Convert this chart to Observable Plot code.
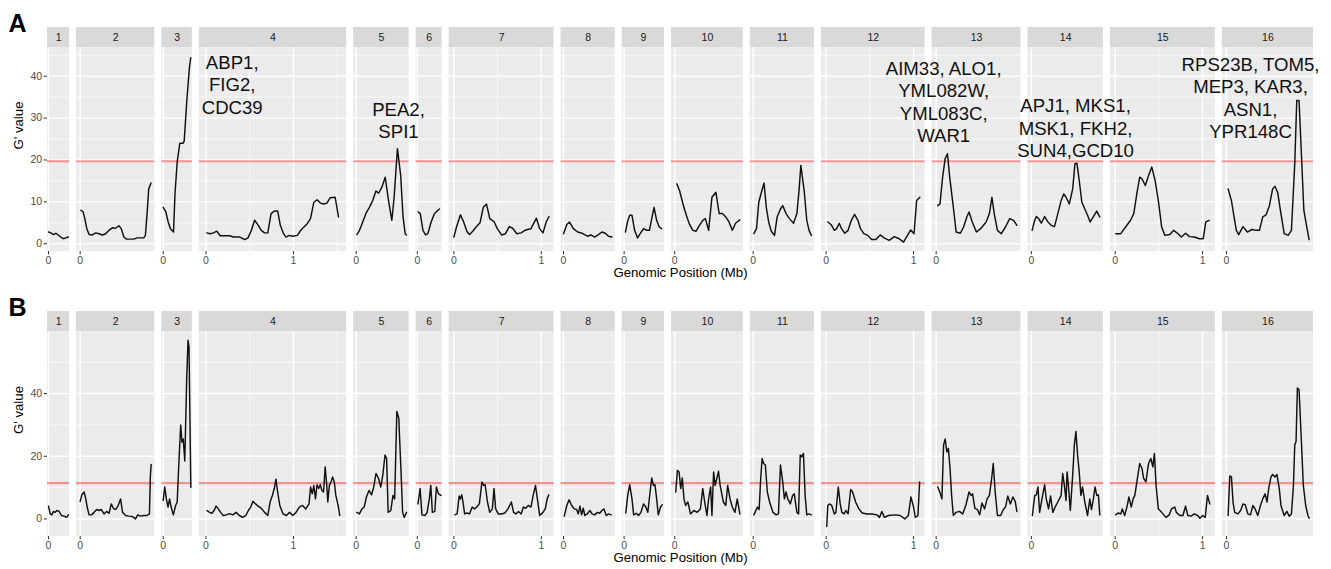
<!DOCTYPE html>
<html><head><meta charset="utf-8">
<script src="https://cdn.jsdelivr.net/npm/d3@7"></script>
<script src="https://cdn.jsdelivr.net/npm/@observablehq/plot@0.6"></script>
<style>body{margin:0;background:#fff;} svg{display:block;overflow:visible}</style>
</head><body><div id="chart"></div>
<script>
// ---------- data ----------
const chrNames = ["1","2","3","4","5","6","7","8","9","10","11","12","13","14","15","16"];
const chrLengths = [0.230,0.813,0.317,1.532,0.577,0.270,1.091,0.563,0.440,0.746,0.667,1.078,0.924,0.784,1.091,0.948]; // Mb
const xBreaks = [0, 1];
const xMinorBreaks = [0.5, 1.5];
const yTicksA = [0, 10, 20, 30, 40];
const yMinorA = [5, 15, 25, 35, 45];
const yTicksB = [0, 20, 40];
const yMinorB = [10, 30, 50];
const yDomainA = [-1.85, 46.85];
const yDomainB = [-5.6, 59.8];
const thresholdA = 19.7;
const thresholdB = 11.45;
const xTitle = "Genomic Position (Mb)";
const yTitle = "G' value";

// Panel A: [position (Mb), G' value]
const gA1 = [[0,2.8],[0.027,2.6],[0.057,2.2],[0.083,2.5],[0.11,2.1],[0.14,1.6],[0.17,1.2],[0.197,1.4],[0.227,1.6]];
const gA2 = [[0.008,8.0],[0.034,7.6],[0.053,6.0],[0.076,3.6],[0.102,2.2],[0.14,2.1],[0.178,2.6],[0.216,2.4],[0.254,2.1],[0.292,2.4],[0.33,3.2],[0.367,3.8],[0.405,3.7],[0.443,4.3],[0.47,3.6],[0.5,1.6],[0.53,1.1],[0.576,1.1],[0.614,1.1],[0.65,1.4],[0.69,1.4],[0.727,1.4],[0.746,2.0],[0.765,7.2],[0.784,13.1],[0.81,14.5]];
const gA3 = [[0,8.7],[0.03,7.6],[0.057,5.2],[0.083,3.6],[0.118,2.8],[0.135,12.0],[0.16,19.5],[0.19,24.0],[0.228,24.0],[0.24,24.5],[0.27,34.2],[0.30,42.1],[0.315,44.4]];
const gA4 = [[0.011,2.6],[0.049,2.4],[0.086,2.6],[0.124,3.0],[0.162,1.9],[0.199,1.9],[0.237,1.9],[0.274,1.9],[0.312,1.6],[0.35,1.6],[0.387,1.6],[0.444,1.0],[0.481,1.4],[0.519,3.2],[0.556,5.6],[0.594,4.5],[0.632,3.2],[0.669,2.6],[0.707,2.6],[0.744,7.2],[0.782,7.8],[0.82,7.8],[0.85,4.4],[0.887,2.4],[0.914,1.6],[0.951,2.0],[0.989,1.8],[1.045,2.0],[1.083,3.2],[1.12,4.0],[1.158,4.8],[1.195,6.0],[1.233,9.9],[1.271,10.5],[1.308,9.7],[1.346,9.5],[1.383,9.7],[1.421,11.0],[1.477,11.1],[1.515,6.4]];
const gA5 = [[0.008,2.2],[0.038,3.2],[0.075,5.2],[0.113,7.3],[0.151,8.7],[0.189,10.3],[0.226,12.6],[0.257,12.1],[0.294,13.5],[0.332,15.9],[0.37,10.3],[0.408,5.6],[0.434,11.1],[0.472,22.7],[0.509,16.3],[0.536,6.4],[0.56,2.4],[0.575,2.1]];
const gA6 = [[0.008,7.6],[0.034,7.2],[0.064,3.2],[0.094,2.1],[0.12,2.4],[0.158,5.2],[0.196,7.2],[0.253,8.3]];
const gA7 = [[0,1.6],[0.03,4.0],[0.075,6.9],[0.112,5.2],[0.149,2.9],[0.179,2.2],[0.216,3.0],[0.254,4.0],[0.299,5.0],[0.336,8.7],[0.373,9.5],[0.41,6.0],[0.459,5.3],[0.496,3.6],[0.545,2.1],[0.59,2.4],[0.634,4.1],[0.672,3.7],[0.72,2.4],[0.769,2.6],[0.821,3.3],[0.881,3.6],[0.944,6.1],[0.981,3.6],[1.019,2.6],[1.056,5.2],[1.088,6.5]];
const gA8 = [[0,2.4],[0.038,4.6],[0.068,5.2],[0.113,3.6],[0.162,2.8],[0.214,2.5],[0.274,1.8],[0.312,2.1],[0.357,1.6],[0.395,2.1],[0.44,2.8],[0.477,2.5],[0.515,1.8],[0.553,1.6]];
const gA9 = [[0.015,2.8],[0.041,5.4],[0.064,6.8],[0.09,6.8],[0.12,3.2],[0.154,1.4],[0.184,2.4],[0.222,3.6],[0.259,3.2],[0.289,3.2],[0.316,6.0],[0.342,8.7],[0.372,5.6],[0.402,4.0],[0.429,3.6]];
const gA10 = [[0.023,14.3],[0.056,12.6],[0.094,9.5],[0.132,6.8],[0.169,4.6],[0.207,3.2],[0.244,3.0],[0.282,4.4],[0.32,5.6],[0.35,6.0],[0.387,3.2],[0.425,11.1],[0.47,12.3],[0.508,7.2],[0.545,7.2],[0.583,6.4],[0.62,5.2],[0.658,3.2],[0.695,4.9],[0.744,5.7]];
const gA11 = [[0.008,2.4],[0.038,3.6],[0.064,9.9],[0.094,12.3],[0.124,14.5],[0.15,8.7],[0.177,5.2],[0.207,3.0],[0.244,2.0],[0.274,6.4],[0.312,8.3],[0.338,9.1],[0.376,7.2],[0.414,6.0],[0.462,4.9],[0.5,7.2],[0.526,13.1],[0.545,18.7],[0.583,12.7],[0.613,5.6],[0.639,3.2],[0.665,2.0]];
const gA12 = [[0.019,5.2],[0.056,4.6],[0.094,3.2],[0.12,3.6],[0.15,4.9],[0.176,3.6],[0.213,2.5],[0.251,3.2],[0.288,5.6],[0.326,7.0],[0.363,5.6],[0.393,3.6],[0.431,2.4],[0.476,2.0],[0.52,1.0],[0.569,1.0],[0.618,2.1],[0.663,1.4],[0.72,0.8],[0.78,1.7],[0.835,1.2],[0.885,0.4],[0.93,2.0],[0.967,3.3],[1.005,2.4],[1.035,10.3],[1.072,11.1]];
const gA13 = [[0.018,9.1],[0.044,9.5],[0.074,15.9],[0.103,20.3],[0.129,21.5],[0.155,15.9],[0.192,9.5],[0.229,2.8],[0.277,2.5],[0.314,4.0],[0.351,6.4],[0.376,7.6],[0.413,5.2],[0.461,2.8],[0.509,3.6],[0.572,5.2],[0.609,7.2],[0.638,11.1],[0.664,7.2],[0.701,3.2],[0.745,2.4],[0.793,4.0],[0.841,6.0],[0.886,5.6],[0.923,4.4]];
const gA14 = [[0.008,3.2],[0.038,5.6],[0.057,6.5],[0.083,6.0],[0.113,4.9],[0.151,6.5],[0.189,5.2],[0.226,4.4],[0.264,4.1],[0.302,7.2],[0.34,10.3],[0.37,11.9],[0.396,11.1],[0.434,9.5],[0.472,13.1],[0.498,19.1],[0.521,19.2],[0.547,15.1],[0.577,9.9],[0.611,8.3],[0.642,6.8],[0.672,5.2],[0.709,6.5],[0.747,7.8],[0.782,6.4]];
const gA15 = [[0.007,2.4],[0.064,2.4],[0.12,4.0],[0.176,5.6],[0.213,7.2],[0.251,12.3],[0.281,15.9],[0.307,15.5],[0.345,13.9],[0.382,16.3],[0.419,18.3],[0.457,15.1],[0.494,10.3],[0.532,4.0],[0.569,2.0],[0.625,2.2],[0.67,3.2],[0.719,2.4],[0.757,1.6],[0.805,2.5],[0.85,1.7],[0.906,1.6],[0.963,1.2],[1.007,1.2],[1.037,5.2],[1.075,5.6]];
const gA16 = [[0.019,13.1],[0.057,10.3],[0.087,6.4],[0.113,3.2],[0.14,2.2],[0.189,4.1],[0.238,2.8],[0.291,3.4],[0.34,3.2],[0.377,3.2],[0.415,6.4],[0.453,6.9],[0.491,9.1],[0.528,13.1],[0.555,13.7],[0.585,12.3],[0.623,7.2],[0.66,2.4],[0.706,2.0],[0.743,3.2],[0.781,19.1],[0.804,34.2],[0.83,34.2],[0.857,21.5],[0.885,8.0],[0.91,5.0],[0.945,1.0]];

// Panel B
const gB1 = [[0,4.1],[0.019,1.6],[0.038,1.3],[0.057,2.4],[0.076,2.1],[0.095,2.7],[0.121,2.4],[0.148,1.1],[0.178,0.9],[0.208,0.5],[0.227,1.3]];
const gB2 = [[0,5.6],[0.019,7.7],[0.045,8.6],[0.064,6.4],[0.083,3.4],[0.102,1.3],[0.129,1.3],[0.159,2.1],[0.189,3.0],[0.216,2.7],[0.242,3.0],[0.273,1.6],[0.303,2.4],[0.33,1.8],[0.356,4.8],[0.379,3.4],[0.405,3.0],[0.432,4.1],[0.462,6.4],[0.485,2.1],[0.519,1.1],[0.557,0.9],[0.595,0.8],[0.633,0.0],[0.659,1.3],[0.689,0.9],[0.727,1.1],[0.765,1.1],[0.792,1.6],[0.803,13.9],[0.812,17.4]];
const gB3 = [[0,5.9],[0.018,10.2],[0.036,6.4],[0.055,3.8],[0.073,6.4],[0.091,3.8],[0.116,1.3],[0.142,4.3],[0.16,5.4],[0.178,17.2],[0.2,30.0],[0.215,24.5],[0.229,25.5],[0.247,18.5],[0.269,45.0],[0.284,57.0],[0.295,55.0],[0.316,10.0]];
const gB4 = [[0.011,2.7],[0.041,2.1],[0.067,1.8],[0.093,2.7],[0.115,4.1],[0.141,3.2],[0.167,2.1],[0.196,1.1],[0.233,1.3],[0.27,1.7],[0.307,1.3],[0.344,2.1],[0.381,1.1],[0.419,0.5],[0.456,1.1],[0.485,2.7],[0.511,3.8],[0.537,5.6],[0.567,4.8],[0.596,4.1],[0.633,3.4],[0.67,2.1],[0.707,1.1],[0.733,5.4],[0.759,7.5],[0.781,9.7],[0.8,12.7],[0.819,8.6],[0.844,4.3],[0.881,1.6],[0.919,1.1],[0.956,2.1],[0.993,1.1],[1.03,2.1],[1.067,3.8],[1.104,4.3],[1.141,3.2],[1.178,4.8],[1.196,10.2],[1.215,8.0],[1.233,10.7],[1.252,6.4],[1.27,10.9],[1.289,9.7],[1.307,10.9],[1.326,9.1],[1.344,8.6],[1.363,16.6],[1.381,10.7],[1.393,5.4],[1.411,10.7],[1.43,11.8],[1.448,13.4],[1.467,11.8],[1.485,7.5],[1.511,4.3],[1.53,1.1]];
const gB5 = [[0.007,2.1],[0.037,1.6],[0.066,3.2],[0.092,3.8],[0.117,7.0],[0.147,9.1],[0.176,7.7],[0.201,10.2],[0.227,14.5],[0.256,12.9],[0.282,10.2],[0.304,13.9],[0.33,20.4],[0.348,19.3],[0.366,2.1],[0.396,2.7],[0.421,7.5],[0.44,6.4],[0.465,34.3],[0.487,32.2],[0.513,15.0],[0.531,2.1],[0.549,0.5],[0.576,2.1]];
const gB6 = [[0.007,4.8],[0.032,9.7],[0.053,1.3],[0.088,1.1],[0.112,2.1],[0.137,6.4],[0.154,10.7],[0.172,2.1],[0.2,2.4],[0.218,10.2],[0.242,8.0],[0.27,7.5]];
const gB7 = [[0.011,1.3],[0.037,1.6],[0.06,7.3],[0.075,6.4],[0.09,7.7],[0.104,5.4],[0.123,1.6],[0.149,1.9],[0.179,1.6],[0.209,3.8],[0.235,3.2],[0.261,3.8],[0.291,4.8],[0.321,11.8],[0.34,10.7],[0.358,10.9],[0.384,5.4],[0.41,2.1],[0.44,3.2],[0.459,9.7],[0.478,3.2],[0.507,1.6],[0.545,1.6],[0.582,1.9],[0.619,3.2],[0.657,5.4],[0.683,2.1],[0.709,1.6],[0.739,2.4],[0.769,1.6],[0.795,3.8],[0.821,3.4],[0.851,4.3],[0.881,3.8],[0.907,7.5],[0.933,10.7],[0.955,6.4],[0.981,1.1],[1.019,2.1],[1.045,3.2],[1.067,6.4],[1.086,7.7]];
const gB8 = [[0.008,0.9],[0.038,4.3],[0.064,6.1],[0.094,4.3],[0.124,3.2],[0.15,3.0],[0.169,1.6],[0.188,4.1],[0.207,1.3],[0.226,3.4],[0.244,1.1],[0.271,1.6],[0.301,2.7],[0.327,1.6],[0.357,1.3],[0.387,2.1],[0.414,1.8],[0.44,2.7],[0.462,3.2],[0.489,1.1],[0.515,1.6],[0.545,1.3]];
const gB9 = [[0.019,1.9],[0.041,7.5],[0.064,10.9],[0.09,6.4],[0.109,1.3],[0.139,1.8],[0.165,1.1],[0.192,2.1],[0.222,4.8],[0.248,3.8],[0.271,2.1],[0.297,8.6],[0.316,13.1],[0.335,10.7],[0.353,10.9],[0.372,6.4],[0.391,1.3],[0.417,3.8],[0.436,4.5]];
const gB10 = [[0.011,8.6],[0.03,15.5],[0.049,15.0],[0.068,9.7],[0.086,13.1],[0.105,6.4],[0.124,4.3],[0.15,5.4],[0.18,1.6],[0.218,2.7],[0.256,2.1],[0.293,3.2],[0.32,9.7],[0.342,5.4],[0.368,1.1],[0.387,6.4],[0.41,10.2],[0.425,1.1],[0.444,15.0],[0.462,10.7],[0.481,12.9],[0.5,15.2],[0.519,10.7],[0.556,5.4],[0.583,4.3],[0.605,10.7],[0.632,6.4],[0.658,3.8],[0.688,2.1],[0.714,6.4],[0.744,1.6]];
const gB11 = [[0.008,1.3],[0.026,2.4],[0.049,3.8],[0.068,3.0],[0.086,12.9],[0.102,19.3],[0.12,17.7],[0.139,17.2],[0.162,8.6],[0.188,5.4],[0.226,2.1],[0.263,1.3],[0.289,1.6],[0.312,17.2],[0.338,11.8],[0.357,6.4],[0.376,8.6],[0.395,6.4],[0.425,4.8],[0.451,7.5],[0.47,8.0],[0.5,2.1],[0.519,1.6],[0.538,20.4],[0.556,19.8],[0.575,20.9],[0.594,7.5],[0.613,1.3],[0.639,1.6],[0.665,1.3]];
const gB12 = [[0.007,-2.4],[0.019,4.3],[0.037,4.8],[0.064,4.3],[0.094,1.6],[0.112,2.1],[0.139,10.2],[0.161,4.8],[0.18,2.1],[0.206,1.6],[0.225,2.7],[0.251,1.6],[0.281,9.4],[0.303,8.6],[0.337,5.4],[0.375,3.2],[0.412,1.9],[0.468,1.6],[0.524,1.6],[0.581,1.3],[0.61,0.5],[0.637,2.4],[0.667,0.5],[0.712,1.1],[0.79,1.3],[0.846,1.1],[0.9,0.0],[0.94,1.1],[0.97,7.0],[0.996,4.3],[1.02,0.5],[1.05,1.1],[1.069,11.8]];
const gB13 = [[0.018,10.2],[0.044,8.4],[0.066,6.4],[0.085,23.6],[0.103,25.5],[0.122,21.4],[0.14,22.5],[0.159,16.1],[0.177,7.5],[0.196,1.1],[0.229,2.1],[0.266,2.4],[0.303,1.6],[0.339,4.3],[0.376,8.6],[0.399,7.5],[0.417,8.0],[0.443,3.4],[0.472,3.0],[0.498,1.3],[0.524,5.1],[0.554,3.2],[0.583,6.4],[0.609,7.5],[0.635,12.9],[0.653,17.7],[0.675,8.6],[0.701,1.1],[0.738,1.1],[0.768,3.0],[0.793,3.8],[0.819,7.3],[0.849,4.8],[0.878,7.0],[0.904,5.6],[0.923,2.4]];
const gB14 = [[0.011,1.1],[0.038,7.5],[0.057,7.7],[0.075,10.2],[0.094,2.1],[0.121,6.4],[0.151,10.9],[0.17,6.4],[0.196,3.2],[0.219,7.3],[0.245,2.1],[0.272,3.8],[0.302,5.4],[0.34,7.5],[0.358,14.5],[0.377,10.7],[0.396,5.9],[0.408,15.0],[0.423,10.7],[0.445,2.7],[0.472,13.9],[0.491,23.6],[0.509,27.9],[0.528,20.4],[0.547,15.0],[0.566,7.5],[0.585,10.2],[0.611,5.4],[0.642,1.1],[0.668,6.4],[0.687,3.0],[0.709,6.4],[0.728,10.2],[0.747,7.5],[0.766,7.7],[0.782,1.3]];
const gB15 = [[0.007,1.3],[0.034,1.9],[0.064,1.6],[0.082,3.2],[0.109,1.1],[0.139,4.3],[0.157,7.0],[0.184,3.8],[0.206,6.4],[0.225,7.5],[0.251,12.3],[0.281,17.7],[0.307,16.1],[0.326,12.9],[0.352,11.8],[0.382,17.7],[0.408,19.3],[0.431,16.6],[0.449,20.9],[0.468,10.7],[0.494,3.2],[0.532,2.1],[0.581,0.5],[0.618,1.3],[0.644,3.2],[0.682,3.8],[0.7,2.1],[0.738,1.1],[0.775,1.1],[0.805,4.1],[0.831,1.1],[0.869,0.9],[0.906,1.6],[0.944,1.1],[0.97,0.2],[1.0,1.1],[1.03,0.5],[1.056,7.5],[1.082,4.8]];
const gB16 = [[0.019,1.1],[0.038,13.7],[0.057,13.4],[0.075,5.4],[0.094,2.1],[0.132,1.6],[0.162,2.7],[0.189,4.8],[0.215,4.5],[0.245,1.6],[0.275,1.3],[0.302,4.3],[0.328,3.2],[0.358,1.1],[0.389,4.3],[0.415,6.4],[0.442,8.0],[0.464,5.4],[0.483,9.7],[0.509,13.4],[0.528,14.2],[0.555,13.4],[0.577,14.2],[0.604,9.7],[0.623,4.3],[0.66,1.1],[0.691,2.4],[0.717,0.9],[0.743,1.6],[0.766,10.7],[0.781,23.6],[0.796,24.7],[0.811,41.8],[0.83,41.3],[0.857,24.7],[0.879,10.7],[0.906,4.3],[0.932,1.1],[0.946,0.2]];

// gene annotations for panel A: chromosome, position (Mb), G' value (block centre), text
const annotChr = [4, 5, 13, 14, 16];
const annotPos = [0.30, 0.484, 0.086, 0.505, 0.275];
const annotG = [38.1, 29.6, 34.0, 27.8, 35.0];
const annotText = ["ABP1,\nFIG2,\nCDC39", "PEA2,\nSPI1", "AIM33, ALO1,\nYML082W,\nYML083C,\nWAR1", "APJ1, MKS1,\nMSK1, FKH2,\nSUN4,GCD10", "RPS23B, TOM5,\nMEP3, KAR3,\nASN1,\nYPR148C"];

// ---------- layout (free-width facets) ----------
const EXPAND = 0.05, GAP = 0.08;
let acc = 0;
const chroms = chrNames.map((name, i) => {
  const L = chrLengths[i];
  const start = acc, end = start + L * (1 + 2 * EXPAND);
  acc = end + GAP;
  return {name, L, start, end, origin: start + EXPAND * L, mid: (start + end) / 2, lo: -EXPAND * L, hi: L * (1 + EXPAND)};
});
const total = acc - GAP;

const FONT = "'Liberation Sans', Arial, Helvetica, sans-serif";

function panel({letter, series, yDomain, yTicks, yMinor, threshold, annots, height}) {
  const lineData = series.flatMap((arr, i) => arr.map(([p, g]) => ({chr: chrNames[i], x: chroms[i].origin + p, g})));
  const gridMajY = chroms.flatMap(c => yTicks.map(v => ({...c, v})));
  const gridMinY = chroms.flatMap(c => yMinor.filter(v => v > yDomain[0] && v < yDomain[1]).map(v => ({...c, v})));
  const gridMajX = chroms.flatMap(c => xBreaks.filter(b => b >= c.lo && b <= c.hi).map(b => ({gx: c.origin + b, label: String(b)})));
  const gridMinX = chroms.flatMap(c => {
    const nMaj = xBreaks.filter(b => b >= c.lo && b <= c.hi).length;
    return nMaj < 2 ? [] : xMinorBreaks.filter(b => b >= c.lo && b <= c.hi).map(b => ({gx: c.origin + b}));
  });
  const labelAt = new Map(gridMajX.map(t => [t.gx, t.label]));
  const yLo = () => yDomain[0], yHi = () => yDomain[1];
  return Plot.plot({
    width: 1331, height,
    marginLeft: 47, marginRight: 18, marginTop: 47, marginBottom: 33,
    x: {domain: [0, total]},
    y: {domain: yDomain},
    style: {fontFamily: FONT, background: "white", overflow: "visible"},
    marks: [
      Plot.rect(chroms, {x1: "start", x2: "end", y1: yLo, y2: yHi, fill: "#ebebeb"}),
      Plot.rect(chroms, {x1: "start", x2: "end", y1: yHi, y2: yHi, insetTop: -20, fill: "#d9d9d9"}),
      Plot.text(chroms, {x: "mid", y: yHi, dy: -10, text: "name", fontSize: 10.5, fill: "#1a1a1a"}),
      Plot.ruleY(gridMinY, {y: "v", x1: "start", x2: "end", stroke: "white", strokeWidth: 0.7}),
      Plot.ruleX(gridMinX, {x: "gx", y1: yLo, y2: yHi, stroke: "white", strokeWidth: 0.7}),
      Plot.ruleY(gridMajY, {y: "v", x1: "start", x2: "end", stroke: "white", strokeWidth: 1.4}),
      Plot.ruleX(gridMajX, {x: "gx", y1: yLo, y2: yHi, stroke: "white", strokeWidth: 1.4}),
      Plot.ruleY(chroms, {y: () => threshold, x1: "start", x2: "end", stroke: "red", strokeOpacity: 0.38, strokeWidth: 2.2}),
      Plot.line(lineData, {x: "x", y: "g", z: "chr", stroke: "#111", strokeWidth: 1.45, strokeLinejoin: "round"}),
      Plot.axisY({ticks: yTicks, tickSize: 3.3, tickPadding: 2, fontSize: 10.5, stroke: "#333", fill: "#4d4d4d", label: null}),
      Plot.axisX({ticks: gridMajX.map(t => t.gx), tickFormat: v => labelAt.get(v), tickSize: 3.3, tickPadding: 2, fontSize: 10.5, stroke: "#333", fill: "#4d4d4d", label: null}),
      Plot.text([yTitle], {frameAnchor: "left", dx: -29, rotate: -90, text: d => d, fontSize: 13.2, fill: "#000"}),
      Plot.text([xTitle], {frameAnchor: "bottom", dy: 25.5, text: d => d, fontSize: 13.2, fill: "#000"}),
      Plot.text([letter], {frameAnchor: "top-left", dx: -39, dy: -16, text: d => d, fontSize: 25, fontWeight: "bold", textAnchor: "start", lineAnchor: "bottom", fill: "#000"}),
      Plot.text(annots, {x: d => chroms[d.chr - 1].origin + d.pos, y: "g", text: "label", fontSize: 18.6, lineHeight: 1.21, lineAnchor: "middle", textAnchor: "middle", fill: "#111"})
    ]
  });
}

const annotsA = annotChr.map((chr, i) => ({chr, pos: annotPos[i], g: annotG[i], label: annotText[i]}));

const root = document.getElementById("chart");
root.appendChild(panel({letter: "A", series: [gA1,gA2,gA3,gA4,gA5,gA6,gA7,gA8,gA9,gA10,gA11,gA12,gA13,gA14,gA15,gA16],
  yDomain: yDomainA, yTicks: yTicksA, yMinor: yMinorA, threshold: thresholdA, annots: annotsA, height: 284}));
root.appendChild(panel({letter: "B", series: [gB1,gB2,gB3,gB4,gB5,gB6,gB7,gB8,gB9,gB10,gB11,gB12,gB13,gB14,gB15,gB16],
  yDomain: yDomainB, yTicks: yTicksB, yMinor: yMinorB, threshold: thresholdB, annots: [], height: 285}));
</script>
</body></html>
